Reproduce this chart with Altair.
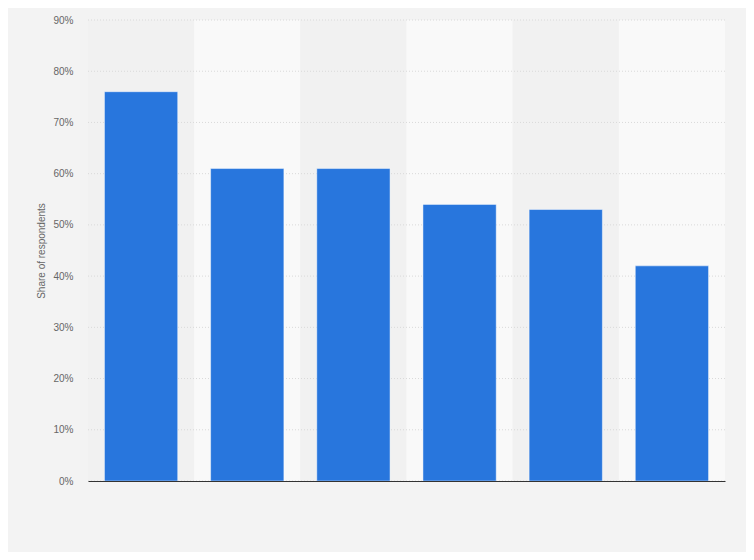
import altair as alt
import pandas as pd

categories = ["Item 1", "Item 2", "Item 3", "Item 4", "Item 5", "Item 6"]
values = [76, 61, 61, 54, 53, 42]
y_ticks = [0, 10, 20, 30, 40, 50, 60, 70, 80, 90]

df = pd.DataFrame({
    "category": categories,
    "value": values,
    "shade": [i % 2 for i in range(len(categories))],
})
grid_df = pd.DataFrame({"tick": y_ticks})

FONT = "Liberation Sans"

x_enc = alt.X("category:N", sort=categories,
              scale=alt.Scale(paddingInner=0, paddingOuter=0),
              axis=alt.Axis(labels=False, ticks=False, title=None, domain=True,
                            domainColor="#333333", domainWidth=1.2, grid=False, zindex=2))

y_scale = alt.Scale(domain=[0, 90], nice=False)

bands = alt.Chart(df).mark_bar(width={"band": 1}, stroke=None).encode(
    x=x_enc,
    y=alt.Y(datum=90, type="quantitative", scale=y_scale),
    y2=alt.Y2(datum=0),
    color=alt.Color("shade:N", scale=alt.Scale(domain=[0, 1], range=["#f1f1f1", "#f9f9f9"]), legend=None),
)

grid = alt.Chart(grid_df).mark_rule(color="#d9d9d9", strokeDash=[1, 2], strokeWidth=1).encode(
    y=alt.Y("tick:Q", scale=y_scale),
)

bars = alt.Chart(df).mark_bar(width={"band": 0.69}, color="#2876dd",
                              stroke="#ffffff", strokeOpacity=0.45, strokeWidth=1).encode(
    x=x_enc,
    y=alt.Y("value:Q", scale=y_scale,
            axis=alt.Axis(values=y_ticks, labelExpr="datum.value + '%'", grid=False,
                          domain=False, ticks=False, labelPadding=15,
                          labelColor="#666666", labelFontSize=10, labelFont=FONT,
                          title="Share of respondents", titleColor="#666666",
                          titleFontSize=10, titleFontWeight="normal", titleFont=FONT,
                          titlePadding=6)),
)

chart = alt.layer(bands, grid, bars).properties(
    width=637, height=461,
    background="#f3f3f3",
    autosize=alt.AutoSizeParams(type="none"),
    padding={"left": 80, "top": 12, "right": 21, "bottom": 71},
).configure_view(stroke=None)

chart.save("out.html", embed_options={"renderer": "svg", "actions": False})
